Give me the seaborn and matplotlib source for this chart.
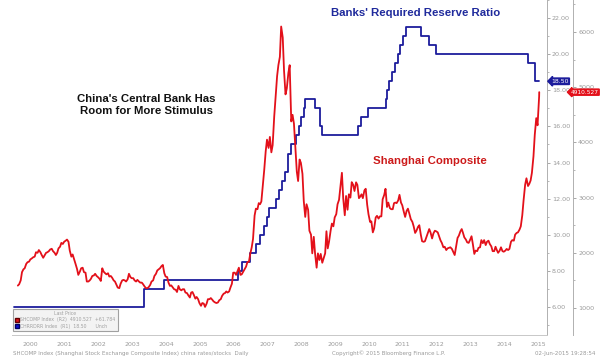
import matplotlib
matplotlib.use("Agg")
import matplotlib.pyplot as plt
import matplotlib.dates as mdates
import matplotlib.ticker as mtick
from matplotlib.lines import Line2D
import pandas as pd
import seaborn as sns

# --- data --------------------------------------------------------------------
# Banks' required reserve ratio (%), step changes
rrr_dates = [
    "1999-11-21", "2003-09-21", "2004-04-25", "2006-07-05", "2006-08-15",
    "2006-11-15", "2007-01-15", "2007-02-25", "2007-04-16", "2007-05-15",
    "2007-06-05", "2007-08-15", "2007-09-25", "2007-10-25", "2007-11-26",
    "2007-12-25", "2008-01-25", "2008-03-25", "2008-04-25", "2008-05-20",
    "2008-06-15", "2008-06-25", "2008-10-15", "2008-12-05", "2008-12-25",
    "2010-01-18", "2010-02-25", "2010-05-10", "2010-11-16", "2010-11-29",
    "2010-12-20", "2011-01-20", "2011-02-24", "2011-03-25", "2011-04-21",
    "2011-05-18", "2011-06-20", "2011-12-05", "2012-02-24", "2012-05-18",
    "2015-02-05", "2015-04-20", "2015-06-02",
]
rrr_values = [
    6.0, 7.0, 7.5, 8.0, 8.5,
    9.0, 9.5, 10.0, 10.5, 11.0,
    11.5, 12.0, 12.5, 13.0, 13.5,
    14.5, 15.0, 15.5, 16.0, 16.5,
    17.0, 17.5, 17.0, 16.0, 15.5,
    16.0, 16.5, 17.0, 17.5, 18.0,
    18.5, 19.0, 19.5, 20.0, 20.5,
    21.0, 21.5, 21.0, 20.5, 20.0,
    19.5, 18.5, 18.5,
]

# Shanghai Composite, values on the 1st and 15th of each month
shcomp_2000 = [1406, 1430, 1500, 1650, 1700, 1720, 1800, 1830, 1840, 1880, 1900, 1920,
               1930, 2010, 2000, 2050, 2010, 1960, 1910, 1950, 2000, 2010, 2030, 2060]
shcomp_2001 = [2073, 2030, 2000, 1960, 2000, 2080, 2110, 2180, 2160, 2200, 2220, 2240,
               2200, 2040, 1930, 1970, 1880, 1800, 1710, 1600, 1660, 1720, 1730, 1650]
shcomp_2002 = [1640, 1480, 1480, 1500, 1530, 1580, 1590, 1620, 1580, 1560, 1530, 1490,
               1720, 1660, 1630, 1610, 1630, 1570, 1580, 1550, 1500, 1480, 1420, 1370]
shcomp_2003 = [1360, 1440, 1500, 1510, 1500, 1480, 1520, 1620, 1560, 1540, 1540, 1500,
               1480, 1510, 1480, 1460, 1460, 1430, 1390, 1360, 1360, 1380, 1420, 1480]
shcomp_2004 = [1500, 1580, 1620, 1680, 1700, 1720, 1760, 1780, 1630, 1570, 1560, 1460,
               1400, 1410, 1370, 1340, 1330, 1290, 1400, 1340, 1320, 1340, 1340, 1280]
shcomp_2005 = [1270, 1230, 1190, 1280, 1290, 1240, 1170, 1200, 1160, 1090, 1040, 1090,
               1080, 1020, 1080, 1160, 1160, 1180, 1150, 1120, 1100, 1090, 1100, 1140]
shcomp_2006 = [1161, 1220, 1260, 1270, 1300, 1280, 1300, 1370, 1440, 1640, 1640, 1600,
               1670, 1730, 1600, 1610, 1660, 1700, 1750, 1830, 1840, 1980, 2100, 2250]
shcomp_2007 = [2675, 2800, 2790, 2900, 2880, 2930, 3250, 3500, 3840, 4050, 3900, 4100,
               3820, 3950, 4470, 4800, 5200, 5400, 5550, 6100, 5900, 5300, 4870, 4980]
shcomp_2008 = [5260, 5400, 4380, 4500, 4340, 3960, 3470, 3300, 3690, 3630, 3430, 2940,
               2650, 2880, 2780, 2400, 2330, 1990, 2290, 1990, 1730, 1990, 1870, 1980]
shcomp_2009 = [1820, 1900, 1990, 2390, 2080, 2200, 2400, 2530, 2480, 2640, 2700, 2880,
               2960, 3190, 3450, 2990, 2680, 3030, 2780, 3060, 3000, 3280, 3230, 3120]
shcomp_2010 = [3277, 3230, 2990, 3020, 3060, 2990, 3130, 3160, 2870, 2700, 2560, 2570,
               2370, 2440, 2640, 2670, 2620, 2660, 2660, 2970, 3050, 3160, 2830, 2910]
shcomp_2011 = [2810, 2790, 2790, 2900, 2910, 2900, 2950, 3050, 2910, 2860, 2740, 2650,
               2760, 2800, 2700, 2610, 2560, 2480, 2360, 2400, 2470, 2500, 2330, 2210]
shcomp_2012 = [2199, 2210, 2290, 2360, 2430, 2370, 2260, 2350, 2400, 2390, 2370, 2300,
               2225, 2180, 2100, 2110, 2050, 2080, 2090, 2100, 2070, 2020, 1960, 2100]
shcomp_2013 = [2270, 2310, 2390, 2430, 2360, 2280, 2240, 2190, 2180, 2230, 2300, 2160,
               1980, 2040, 2030, 2090, 2100, 2230, 2175, 2230, 2140, 2200, 2220, 2160]
shcomp_2014 = [2116, 2030, 2030, 2110, 2050, 2000, 2040, 2100, 2030, 2020, 2040, 2070,
               2050, 2070, 2200, 2230, 2220, 2330, 2360, 2370, 2420, 2480, 2680, 2950]
shcomp_2015 = [3235, 3350, 3210, 3250, 3310, 3450, 3750, 4140, 4440, 4310, 4830]
shcomp_last_date = "2015-06-02"
shcomp_last = 4910.527

years = list(range(2000, 2016))
year_labels = [str(y) for y in years]
rrr_ticks = [6, 8, 10, 12, 14, 16, 18, 20, 22]
shcomp_ticks = [1000, 2000, 3000, 4000, 5000, 6000]

RED = "#e3101a"
BLUE = "#1c1c9c"
GREY = "#9a9a9a"

# --- build frames -------------------------------------------------------------
rrr = pd.DataFrame({"date": pd.to_datetime(rrr_dates), "rrr": rrr_values})

shcomp_years = [shcomp_2000, shcomp_2001, shcomp_2002, shcomp_2003, shcomp_2004,
                shcomp_2005, shcomp_2006, shcomp_2007, shcomp_2008, shcomp_2009,
                shcomp_2010, shcomp_2011, shcomp_2012, shcomp_2013, shcomp_2014,
                shcomp_2015]
parts = []
for y, vals in zip(years, shcomp_years):
    d = pd.date_range(f"{y}-01-01", periods=len(vals), freq="SMS")
    parts.append(pd.DataFrame({"date": d, "shcomp": vals}))
parts.append(pd.DataFrame({"date": pd.to_datetime([shcomp_last_date]), "shcomp": [shcomp_last]}))
shcomp = pd.concat(parts, ignore_index=True)

# --- plot ---------------------------------------------------------------------
sns.set_style("white")
plt.rcParams["font.family"] = ["DejaVu Sans"]

fig = plt.figure(figsize=(6, 3.64), dpi=100)
ax = fig.add_axes([12 / 600, 1 - 335 / 364, 535 / 600, 335 / 364])
ax2 = ax.twinx()

sns.lineplot(data=rrr, x="date", y="rrr", ax=ax, color=BLUE, linewidth=1.3,
             drawstyle="steps-post")
sns.lineplot(data=shcomp, x="date", y="shcomp", ax=ax2, color=RED, linewidth=1.3)

ax.set_xlim(pd.Timestamp("1999-10-30"), pd.Timestamp("2015-08-25"))
ax.set_ylim(4.45, 23.0)
ax2.set_ylim(511, 6580)
ax.set_xlabel("")
ax.set_ylabel("")
ax2.set_ylabel("")

# x axis: separators at each year start, labels inside each year
ax.xaxis.set_major_locator(mdates.YearLocator())
ax.xaxis.set_major_formatter(mtick.NullFormatter())
label_pos = [mdates.date2num(pd.Timestamp(f"{y}-05-20")) for y in years]
ax.xaxis.set_minor_locator(mtick.FixedLocator(label_pos))
ax.xaxis.set_minor_formatter(mtick.FixedFormatter(year_labels))
ax.tick_params(axis="x", which="major", length=11, width=0.7, color="#d0d0d0",
               direction="out")
ax.tick_params(axis="x", which="minor", length=0, labelsize=4.5,
               labelcolor=GREY, pad=5)

# right axes
ax.yaxis.tick_right()
ax.set_yticks(rrr_ticks)
ax.yaxis.set_minor_locator(mtick.MultipleLocator(1))
ax.yaxis.set_major_formatter(mtick.FormatStrFormatter("%.2f"))
ax.tick_params(axis="y", which="major", length=2.5, width=0.6, color=GREY,
               labelsize=4.6, labelcolor=GREY, pad=1)
ax.tick_params(axis="y", which="minor", length=1.5, width=0.5, color=GREY)

ax2.set_yticks(shcomp_ticks)
ax2.yaxis.set_minor_locator(mtick.MultipleLocator(500))
ax2.tick_params(axis="y", which="major", length=2.5, width=0.6, color=GREY,
                labelsize=4.6, labelcolor=GREY, pad=1)
ax2.tick_params(axis="y", which="minor", length=1.5, width=0.5, color=GREY)
ax2.spines["right"].set_position(("outward", 19))

for a in (ax, ax2):
    a.spines["top"].set_visible(False)
    a.spines["left"].set_visible(False)
    a.grid(False)
ax2.spines["bottom"].set_visible(False)
ax.spines["bottom"].set_color("#c8c8c8")
ax.spines["right"].set_color("#b0b0b0")
ax2.spines["right"].set_color("#b0b0b0")
for s in ("bottom", "right"):
    ax.spines[s].set_linewidth(0.7)
ax2.spines["right"].set_linewidth(0.7)

# last value tags
ax.annotate("18.50", xy=(1.0, rrr_values[-1]), xycoords=("axes fraction", "data"),
            xytext=(3, 0), textcoords="offset points", ha="left", va="center",
            fontsize=4.4, color="white", zorder=10,
            bbox=dict(boxstyle="larrow,pad=0.12", fc=BLUE, ec=BLUE))
ax2.annotate(f"{shcomp_last:.3f}", xy=(1.0, shcomp_last), xycoords=("axes fraction", "data"),
             xytext=(17, 0), textcoords="offset points", ha="left", va="center",
             fontsize=4.2, color="white", zorder=10,
             bbox=dict(boxstyle="larrow,pad=0.1", fc=RED, ec=RED))

# annotations
title_font = ["Liberation Sans", "DejaVu Sans"]
fig.text(146 / 600, 1 - 105 / 364, "China's Central Bank Has\nRoom for More Stimulus",
         ha="center", va="center", fontsize=8.2, fontweight="bold", color="#111111",
         family=title_font, linespacing=1.3)
fig.text(416 / 600, 1 - 13 / 364, "Banks' Required Reserve Ratio", ha="center",
         va="center", fontsize=8.2, fontweight="bold", color="#1f2a9c", family=title_font)
fig.text(430 / 600, 1 - 161 / 364, "Shanghai Composite", ha="center", va="center",
         fontsize=8.2, fontweight="bold", color="#cc1a1a", family=title_font)

# Bloomberg style legend box
handles = [
    Line2D([], [], marker="s", linestyle="", markersize=3.2, color=RED, markeredgecolor="#600000"),
    Line2D([], [], marker="s", linestyle="", markersize=3.2, color="#1010d0", markeredgecolor="#000060"),
]
labels = ["SHCOMP Index  (R2)  4910.527  +61.784",
          "CHRRDRR Index  (R1)  18.50      Unch"]
leg = ax2.legend(handles, labels, title="Last Price", loc="lower left",
                 bbox_to_anchor=(13 / 600, 1 - 331 / 364), bbox_transform=fig.transFigure,
                 fontsize=3.3, title_fontsize=3.3, frameon=True, fancybox=False,
                 borderpad=0.5, labelspacing=0.3, handletextpad=0.3, handlelength=0.8,
                 borderaxespad=0)
leg.get_frame().set_facecolor("#f1f1f1")
leg.get_frame().set_edgecolor("#8a8a8a")
leg.get_frame().set_linewidth(0.8)
for t in leg.get_texts():
    t.set_color("#a0a0a0")
leg.get_title().set_color("#a0a0a0")

# footer
fig.text(13 / 600, 1 - 353 / 364,
         "SHCOMP Index (Shanghai Stock Exchange Composite Index) china rates/stocks  Daily",
         ha="left", va="center", fontsize=4.0, color=GREY)
fig.text(389 / 600, 1 - 353 / 364, "Copyright\u00a9 2015 Bloomberg Finance L.P.",
         ha="center", va="center", fontsize=4.0, color=GREY)
fig.text(595 / 600, 1 - 353 / 364, "02-Jun-2015 19:28:54", ha="right", va="center",
         fontsize=4.0, color=GREY)

fig.savefig("out.png", dpi=100)
